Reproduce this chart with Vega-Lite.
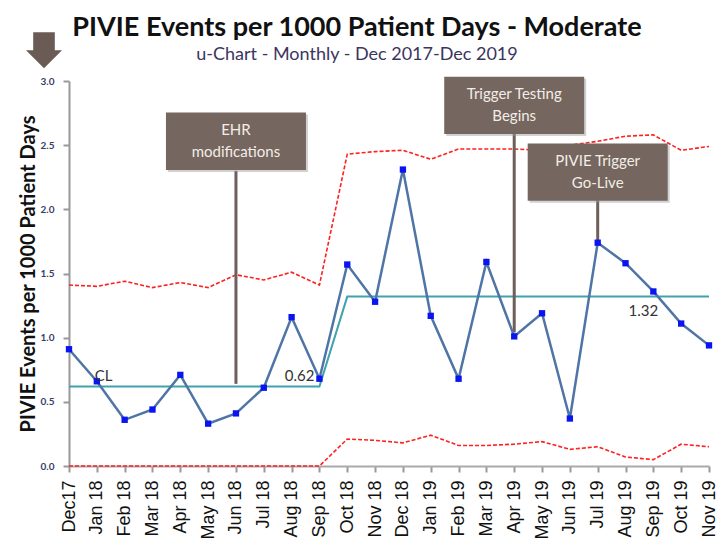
{
  "$schema": "https://vega.github.io/schema/vega-lite/v6.json",
  "width": 640,
  "height": 385,
  "autosize": "none",
  "padding": {"left": 69, "top": 81, "right": 12, "bottom": 72},
  "background": "white",
  "config": {"view": {"stroke": null}, "font": "Lato"},
  "title": {
    "text": "PIVIE Events per 1000 Patient Days - Moderate",
    "subtitle": "u-Chart - Monthly - Dec 2017-Dec 2019",
    "anchor": "middle",
    "frame": "group",
    "dx": -32,
    "font": "Lato",
    "fontSize": 27,
    "fontWeight": "bold",
    "color": "#111111",
    "subtitleFont": "Lato",
    "subtitleFontSize": 18,
    "subtitleColor": "#3b3560",
    "subtitlePadding": 4,
    "offset": -33
  },
  "datasets": {
    "series": [
      {"month": "Dec17", "value": 0.91, "cl": 0.62, "ucl": 1.41, "lcl": 0},
      {"month": "Jan 18", "value": 0.66, "cl": 0.62, "ucl": 1.40, "lcl": 0},
      {"month": "Feb 18", "value": 0.36, "cl": 0.62, "ucl": 1.44, "lcl": 0},
      {"month": "Mar 18", "value": 0.44, "cl": 0.62, "ucl": 1.39, "lcl": 0},
      {"month": "Apr 18", "value": 0.71, "cl": 0.62, "ucl": 1.43, "lcl": 0},
      {"month": "May 18", "value": 0.33, "cl": 0.62, "ucl": 1.39, "lcl": 0},
      {"month": "Jun 18", "value": 0.41, "cl": 0.62, "ucl": 1.49, "lcl": 0},
      {"month": "Jul 18", "value": 0.61, "cl": 0.62, "ucl": 1.45, "lcl": 0},
      {"month": "Aug 18", "value": 1.16, "cl": 0.62, "ucl": 1.51, "lcl": 0},
      {"month": "Sep 18", "value": 0.68, "cl": 0.62, "ucl": 1.41, "lcl": 0},
      {"month": "Oct 18", "value": 1.57, "cl": 1.32, "ucl": 2.43, "lcl": 0.21},
      {"month": "Nov 18", "value": 1.28, "cl": 1.32, "ucl": 2.45, "lcl": 0.20},
      {"month": "Dec 18", "value": 2.31, "cl": 1.32, "ucl": 2.46, "lcl": 0.18},
      {"month": "Jan 19", "value": 1.17, "cl": 1.32, "ucl": 2.39, "lcl": 0.24},
      {"month": "Feb 19", "value": 0.68, "cl": 1.32, "ucl": 2.47, "lcl": 0.16},
      {"month": "Mar 19", "value": 1.59, "cl": 1.32, "ucl": 2.47, "lcl": 0.16},
      {"month": "Apr 19", "value": 1.01, "cl": 1.32, "ucl": 2.47, "lcl": 0.17},
      {"month": "May 19", "value": 1.19, "cl": 1.32, "ucl": 2.46, "lcl": 0.19},
      {"month": "Jun 19", "value": 0.37, "cl": 1.32, "ucl": 2.50, "lcl": 0.13},
      {"month": "Jul 19", "value": 1.74, "cl": 1.32, "ucl": 2.53, "lcl": 0.15},
      {"month": "Aug 19", "value": 1.58, "cl": 1.32, "ucl": 2.57, "lcl": 0.07},
      {"month": "Sep 19", "value": 1.36, "cl": 1.32, "ucl": 2.58, "lcl": 0.05},
      {"month": "Oct 19", "value": 1.11, "cl": 1.32, "ucl": 2.46, "lcl": 0.17},
      {"month": "Nov 19", "value": 0.94, "cl": 1.32, "ucl": 2.49, "lcl": 0.15}
    ],
    "notes": [
      {"month": "Jun 18", "center": 2.53, "top": 2.30, "bottom": 0.64, "label": "EHR\nmodifications"},
      {"month": "Apr 19", "center": 2.81, "top": 2.59, "bottom": 1.04, "label": "Trigger Testing\nBegins"},
      {"month": "Jul 19", "center": 2.29, "top": 2.07, "bottom": 1.74, "label": "PIVIE Trigger\nGo-Live"}
    ],
    "cl_label": [{"month": "Jan 18", "y": 0.62, "label": "CL"}],
    "cl1_label": [{"month": "Sep 18", "y": 0.62, "label": "0.62"}],
    "cl2_label": [{"month": "Aug 19", "y": 1.32, "label": "1.32"}],
    "arrow": [{"month": "Dec17", "y": 3.24}]
  },
  "encoding": {
    "x": {
      "field": "month",
      "type": "ordinal",
      "scale": {
        "type": "point",
        "padding": 0,
        "domain": ["Dec17","Jan 18","Feb 18","Mar 18","Apr 18","May 18","Jun 18","Jul 18","Aug 18","Sep 18","Oct 18","Nov 18","Dec 18","Jan 19","Feb 19","Mar 19","Apr 19","May 19","Jun 19","Jul 19","Aug 19","Sep 19","Oct 19","Nov 19"]
      },
      "axis": {
        "title": null,
        "labelAngle": -90,
        "labelAlign": "right",
        "labelBaseline": "middle",
        "labelFont": "Liberation Sans",
        "labelFontSize": 18,
        "labelColor": "#111111",
        "labelPadding": 8,
        "tickSize": 6,
        "tickColor": "#999999",
        "tickWidth": 2,
        "domainColor": "#aaaaaa",
        "domainWidth": 2,
        "grid": false
      }
    }
  },
  "layer": [
    {
      "data": {"name": "series"},
      "mark": {"type": "line", "color": "#ff2020", "strokeWidth": 1.6, "strokeDash": [4, 2]},
      "encoding": {
        "y": {
          "field": "ucl",
          "type": "quantitative",
          "scale": {"domain": [0, 3], "nice": false},
          "axis": {
            "title": "PIVIE Events per 1000 Patient Days",
            "titleFont": "Lato",
            "titleFontSize": 20,
            "titleFontWeight": "bold",
            "titleColor": "#111111",
            "titlePadding": 2,
            "values": [0, 0.5, 1, 1.5, 2, 2.5, 3],
            "format": ".1f",
            "labelFont": "Lato",
            "labelFontSize": 10,
            "labelFontWeight": "bold",
            "labelColor": "#34406a",
            "labelPadding": 9,
            "tickSize": 6,
            "tickColor": "#999999",
            "tickWidth": 2,
            "domainColor": "#999999",
            "domainWidth": 2,
            "grid": false
          }
        }
      }
    },
    {
      "data": {"name": "series"},
      "mark": {"type": "line", "color": "#ff2020", "strokeWidth": 1.6, "strokeDash": [4, 2]},
      "encoding": {"y": {"field": "lcl", "type": "quantitative"}}
    },
    {
      "data": {"name": "series"},
      "mark": {"type": "line", "color": "#3fa2ae", "strokeWidth": 2},
      "encoding": {"y": {"field": "cl", "type": "quantitative"}}
    },
    {
      "data": {"name": "notes"},
      "mark": {"type": "rule", "color": "#6e5f5a", "strokeWidth": 3},
      "encoding": {
        "y": {"field": "top", "type": "quantitative"},
        "y2": {"field": "bottom"}
      }
    },
    {
      "data": {"name": "notes"},
      "mark": {"type": "point", "shape": "M-1,-0.41H1V0.41H-1Z", "size": 19600, "filled": true, "color": "#9a9a9a", "opacity": 0.45, "xOffset": 2, "yOffset": 2, "strokeWidth": 0},
      "encoding": {"y": {"field": "center", "type": "quantitative"}}
    },
    {
      "data": {"name": "notes"},
      "mark": {"type": "point", "shape": "M-1,-0.41H1V0.41H-1Z", "size": 19600, "filled": true, "color": "#75665f", "opacity": 1, "strokeWidth": 0},
      "encoding": {"y": {"field": "center", "type": "quantitative"}}
    },
    {
      "data": {"name": "notes"},
      "mark": {"type": "text", "font": "Lato", "fontSize": 15, "color": "#f3ede7", "lineBreak": "\n", "lineHeight": 22, "align": "center", "baseline": "middle", "dy": -11},
      "encoding": {
        "y": {"field": "center", "type": "quantitative"},
        "text": {"field": "label"}
      }
    },
    {
      "data": {"name": "series"},
      "mark": {"type": "line", "color": "#4f74a6", "strokeWidth": 2.5},
      "encoding": {"y": {"field": "value", "type": "quantitative"}}
    },
    {
      "data": {"name": "series"},
      "mark": {"type": "point", "shape": "square", "filled": true, "size": 40, "color": "#0a14f0", "opacity": 1},
      "encoding": {"y": {"field": "value", "type": "quantitative"}}
    },
    {
      "data": {"name": "cl_label"},
      "mark": {"type": "text", "font": "Lato", "fontSize": 15, "color": "#333333", "align": "left", "baseline": "middle", "dx": -2, "dy": -10},
      "encoding": {"y": {"field": "y", "type": "quantitative"}, "text": {"field": "label"}}
    },
    {
      "data": {"name": "cl1_label"},
      "mark": {"type": "text", "font": "Lato", "fontSize": 15, "color": "#333333", "align": "right", "baseline": "middle", "dx": -5, "dy": -10},
      "encoding": {"y": {"field": "y", "type": "quantitative"}, "text": {"field": "label"}}
    },
    {
      "data": {"name": "cl2_label"},
      "mark": {"type": "text", "font": "Lato", "fontSize": 15, "color": "#333333", "align": "left", "baseline": "middle", "dx": 3, "dy": 14},
      "encoding": {"y": {"field": "y", "type": "quantitative"}, "text": {"field": "label"}}
    },
    {
      "data": {"name": "arrow"},
      "mark": {"type": "point", "shape": "M-0.6,-1H0.6V0H1L0,1L-1,0H-0.6Z", "size": 1296, "filled": true, "color": "#6b5b55", "opacity": 1, "strokeWidth": 0, "xOffset": -25},
      "encoding": {"y": {"field": "y", "type": "quantitative"}}
    }
  ]
}
